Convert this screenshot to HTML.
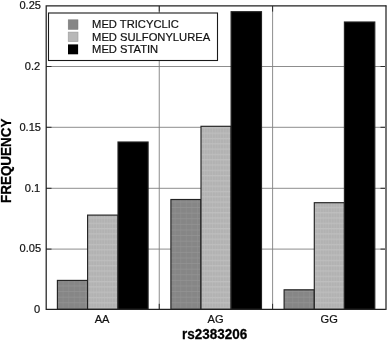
<!DOCTYPE html>
<html>
<head>
<meta charset="utf-8">
<title>rs2383206 medication frequency</title>
<style>
html,body{margin:0;padding:0;background:#fff;}
body{width:387px;height:341px;overflow:hidden;}
svg{display:block;}
text{font-family:"Liberation Sans",Arial,sans-serif;fill:#111;stroke:#111;stroke-width:0.2px;}
.t{font-size:11.1px;}
.b{font-size:13.45px;font-weight:bold;fill:#000;stroke:#000;stroke-width:0.25px;}
.l{font-size:11.2px;}
</style>
</head>
<body>
<svg width="387" height="341" viewBox="0 0 387 341">
<defs>
<pattern id="pd" x="57" y="201.5" width="5.6" height="5.6" patternUnits="userSpaceOnUse">
<rect width="5.6" height="5.6" fill="#868686"/>
<rect x="0" y="0" width="0.7" height="5.6" fill="#8e8e8e"/>
<rect x="0" y="0" width="5.6" height="0.8" fill="#939393"/>
</pattern>
<pattern id="pl" x="87" y="201.5" width="2.7" height="5.3" patternUnits="userSpaceOnUse">
<rect width="2.7" height="5.3" fill="#b1b1b1"/>
<rect x="0.8" y="0" width="1.1" height="5.3" fill="#b8b8b8"/>
<rect x="0" y="0" width="2.7" height="1.3" fill="#bebebe"/>
</pattern>
</defs>
<rect x="0" y="0" width="387" height="341" fill="#fff"/>
<!-- grid lines -->
<g stroke="#808080" stroke-width="0.9" fill="none">
<line x1="46" y1="66.5" x2="385.5" y2="66.5"/>
<line x1="46" y1="127.3" x2="385.5" y2="127.3"/>
<line x1="46" y1="188.3" x2="385.5" y2="188.3"/>
<line x1="46" y1="249.1" x2="385.5" y2="249.1"/>
<line x1="159.25" y1="6" x2="159.25" y2="309.3"/>
<line x1="272.6" y1="6" x2="272.6" y2="309.3"/>
</g>
<!-- ticks -->
<g stroke="#2a2a2a" stroke-width="1" fill="none">
<line x1="46" y1="66.5" x2="51.5" y2="66.5"/>
<line x1="46" y1="127.3" x2="51.5" y2="127.3"/>
<line x1="46" y1="188.3" x2="51.5" y2="188.3"/>
<line x1="46" y1="249.1" x2="51.5" y2="249.1"/>
<line x1="380.5" y1="66.5" x2="386" y2="66.5"/>
<line x1="380.5" y1="127.3" x2="386" y2="127.3"/>
<line x1="380.5" y1="188.3" x2="386" y2="188.3"/>
<line x1="380.5" y1="249.1" x2="386" y2="249.1"/>
<line x1="159.25" y1="6" x2="159.25" y2="11.6"/>
<line x1="272.6" y1="6" x2="272.6" y2="11.6"/>
<line x1="159.25" y1="303.8" x2="159.25" y2="309.3"/>
<line x1="272.6" y1="303.8" x2="272.6" y2="309.3"/>
</g>
<!-- bars -->
<g stroke="#222" stroke-width="1.15">
<rect x="57.4" y="280.4" width="30.2" height="28.9" fill="url(#pd)"/>
<rect x="87.6" y="215.1" width="30.4" height="94.2" fill="url(#pl)"/>
<rect x="118" y="142" width="30.1" height="167.3" fill="#000"/>
<rect x="170.9" y="199.5" width="30.1" height="109.8" fill="url(#pd)"/>
<rect x="201" y="126.3" width="30.1" height="183" fill="url(#pl)"/>
<rect x="231.1" y="11.7" width="30.4" height="297.6" fill="#000"/>
<rect x="284.1" y="289.8" width="30.2" height="19.5" fill="url(#pd)"/>
<rect x="314.3" y="202.7" width="30.1" height="106.6" fill="url(#pl)"/>
<rect x="344.4" y="22" width="30.4" height="287.3" fill="#000"/>
</g>
<!-- axes box -->
<rect x="385" y="5.4" width="2" height="304.5" fill="#767676"/>
<path d="M386.4 5.85H46.2V309.3H385.8" fill="none" stroke="#222" stroke-width="1.25"/>
<!-- legend -->
<rect x="48.5" y="13" width="169" height="47.5" fill="#fff" stroke="#1a1a1a" stroke-width="1.1"/>
<rect x="68.2" y="19.8" width="9.8" height="9.6" fill="#868686" stroke="#777" stroke-width="0.5"/>
<rect x="68.2" y="32.1" width="9.8" height="9.5" fill="#b8b8b8" stroke="#9a9a9a" stroke-width="0.6"/>
<rect x="68" y="44.4" width="10.1" height="9.9" fill="#000"/>
<text class="l" transform="translate(92.1,28.4) scale(1,1.04)">MED TRICYCLIC</text>
<text class="l" transform="translate(92.1,40.75) scale(1,1.04)">MED SULFONYLUREA</text>
<text class="l" transform="translate(92.1,53.15) scale(1,1.04)">MED STATIN</text>
<!-- y tick labels -->
<g class="t" text-anchor="end">
<text transform="translate(41,8.5) scale(1,1.04)">0.25</text>
<text transform="translate(40.2,69.9) scale(1,1.04)">0.2</text>
<text transform="translate(41,130.7) scale(1,1.04)">0.15</text>
<text transform="translate(40.2,191.7) scale(1,1.04)">0.1</text>
<text transform="translate(41.1,252.4) scale(1,1.04)">0.05</text>
<text transform="translate(40.1,312.6) scale(1,1.04)">0</text>
</g>
<!-- x tick labels -->
<g class="t" text-anchor="middle">
<text transform="translate(102.1,322.6) scale(1,1.04)">AA</text>
<text transform="translate(215.5,322.5) scale(1,1.04)">AG</text>
<text transform="translate(329.2,322.5) scale(1,1.04)">GG</text>
</g>
<text class="b" text-anchor="middle" transform="translate(214.6,339.4) scale(1,1.05)">rs2383206</text>
<text class="b" text-anchor="middle" transform="translate(10.7,160.8) rotate(-90) scale(1,1.05)">FREQUENCY</text>
</svg>
</body>
</html>
